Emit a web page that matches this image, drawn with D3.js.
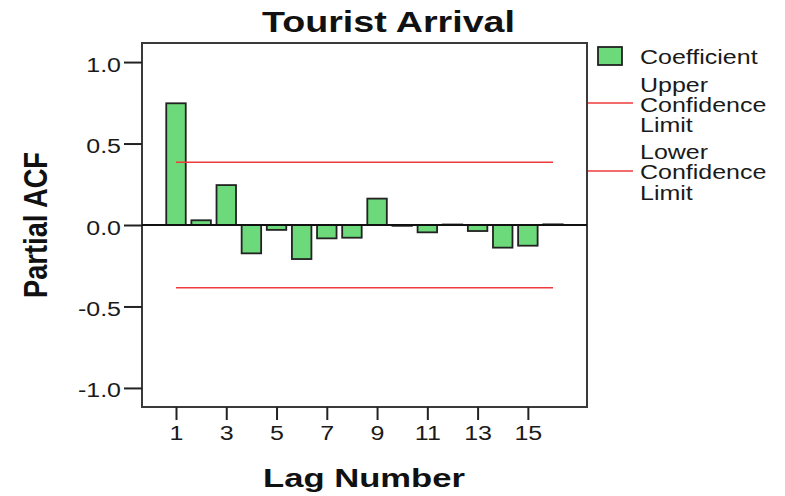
<!DOCTYPE html>
<html>
<head>
<meta charset="utf-8">
<script src="https://cdn.jsdelivr.net/npm/d3@7"></script>
<style>
  html, body { margin: 0; padding: 0; background: #fff; }
  svg { display: block; font-family: "Liberation Sans", Arial, sans-serif; }
</style>
</head>
<body>
<svg id="chart" width="785" height="496"></svg>
<script>
// Partial autocorrelation of tourist arrivals by lag
const lags = [1, 2, 3, 4, 5, 6, 7, 8, 9, 10, 11, 12, 13, 14, 15, 16];
const pacf = [0.747, 0.029, 0.245, -0.174, -0.030, -0.209, -0.082, -0.078,
              0.162, -0.005, -0.045, 0.003, -0.037, -0.139, -0.127, 0.004];
const upperLimit = 0.385;
const lowerLimit = -0.385;
const xTickValues = [1, 3, 5, 7, 9, 11, 13, 15];
const yTickValues = [-1.0, -0.5, 0.0, 0.5, 1.0];
const legendLabels = [["Coefficient"], ["Upper", "Confidence", "Limit"], ["Lower", "Confidence", "Limit"]];

const svg = d3.select("#chart");
const frame = { left: 142, right: 587, top: 43, bottom: 407 };
const stretch = 1.25;   // glyphs are set slightly wide
const textColor = "#1a1a1a";

const x = d3.scalePoint().domain(lags).range([176, 553]);
const barWidth = 19.5;
const y = d3.scaleLinear().domain([-1.117, 1.117]).range([frame.bottom, frame.top]);

// one decimal place, plain hyphen for negatives
const fmtY = (v) => v.toFixed(1);

// plot frame
svg.append("rect")
  .attr("x", frame.left).attr("y", frame.top)
  .attr("width", frame.right - frame.left).attr("height", frame.bottom - frame.top)
  .attr("fill", "#fff").attr("stroke", "#3a3a3a").attr("stroke-width", 2);

// bars
svg.append("g").selectAll("rect").data(lags).join("rect")
  .attr("x", (d) => x(d) - barWidth / 2)
  .attr("y", (d, i) => y(Math.max(0, pacf[i])))
  .attr("width", barWidth)
  .attr("height", (d, i) => Math.abs(y(pacf[i]) - y(0)))
  .attr("fill", "#6cd97a")
  .attr("stroke", "#222").attr("stroke-width", 1.8);

// zero reference line
svg.append("line")
  .attr("x1", frame.left).attr("x2", frame.right)
  .attr("y1", y(0)).attr("y2", y(0))
  .attr("stroke", "#111").attr("stroke-width", 2);

// confidence limits
[upperLimit, lowerLimit].forEach((v) => {
  svg.append("line")
    .attr("x1", x(lags[0])).attr("x2", x(lags[lags.length - 1]))
    .attr("y1", y(v)).attr("y2", y(v))
    .attr("stroke", "#ee3b3b").attr("stroke-width", 1.6);
});

// y axis
const yAxis = svg.append("g")
  .attr("transform", `translate(${frame.left},0)`)
  .call(d3.axisLeft(y).tickValues(yTickValues).tickFormat(fmtY).tickSize(18).tickPadding(4));
yAxis.select(".domain").remove();
yAxis.selectAll(".tick line").attr("stroke", "#222").attr("stroke-width", 2);
yAxis.selectAll(".tick text")
  .attr("x", null).attr("dy", null)
  .attr("transform", `translate(-21,9) scale(${stretch},1)`)
  .attr("font-size", 20).attr("fill", textColor)
  .attr("font-family", "Liberation Sans, Arial, sans-serif");

// x axis
const xAxis = svg.append("g")
  .attr("transform", `translate(0,${frame.bottom})`)
  .call(d3.axisBottom(x).tickValues(xTickValues).tickSize(13).tickPadding(4));
xAxis.select(".domain").remove();
xAxis.selectAll(".tick line").attr("stroke", "#222").attr("stroke-width", 2);
xAxis.selectAll(".tick text")
  .attr("y", null).attr("dy", null)
  .attr("transform", `translate(0,33) scale(${stretch},1)`)
  .attr("font-size", 20).attr("fill", textColor)
  .attr("font-family", "Liberation Sans, Arial, sans-serif");

// titles
svg.append("text")
  .attr("x", 388.5).attr("y", 32)
  .attr("text-anchor", "middle").attr("font-size", 30).attr("font-weight", "bold")
  .attr("textLength", 253).attr("lengthAdjust", "spacingAndGlyphs")
  .attr("fill", "#111").text("Tourist Arrival");

svg.append("text")
  .attr("x", 364).attr("y", 487)
  .attr("text-anchor", "middle").attr("font-size", 26).attr("font-weight", "bold")
  .attr("textLength", 202).attr("lengthAdjust", "spacingAndGlyphs")
  .attr("fill", "#111").text("Lag Number");

svg.append("text")
  .attr("transform", `translate(47,225) scale(${stretch},1) rotate(-90)`)
  .attr("text-anchor", "middle").attr("font-size", 26).attr("font-weight", "bold")
  .attr("textLength", 146).attr("lengthAdjust", "spacingAndGlyphs")
  .attr("fill", "#111").text("Partial ACF");

// legend
const legend = svg.append("g");
legend.append("rect")
  .attr("x", 598).attr("y", 47).attr("width", 24).attr("height", 18)
  .attr("fill", "#6cd97a").attr("stroke", "#222").attr("stroke-width", 1.8);
[103, 171].forEach((ly) => {
  legend.append("line")
    .attr("x1", 588).attr("x2", 633).attr("y1", ly).attr("y2", ly)
    .attr("stroke", "#ee3b3b").attr("stroke-width", 1.6);
});
const legendBaselines = [[64], [92, 112, 132], [159, 179, 200]];
legendLabels.forEach((lines, i) => {
  lines.forEach((t, j) => {
    legend.append("text")
      .attr("transform", `translate(640,${legendBaselines[i][j]}) scale(${stretch},1)`)
      .attr("font-size", 20).attr("fill", textColor).text(t);
  });
});
</script>
</body>
</html>
